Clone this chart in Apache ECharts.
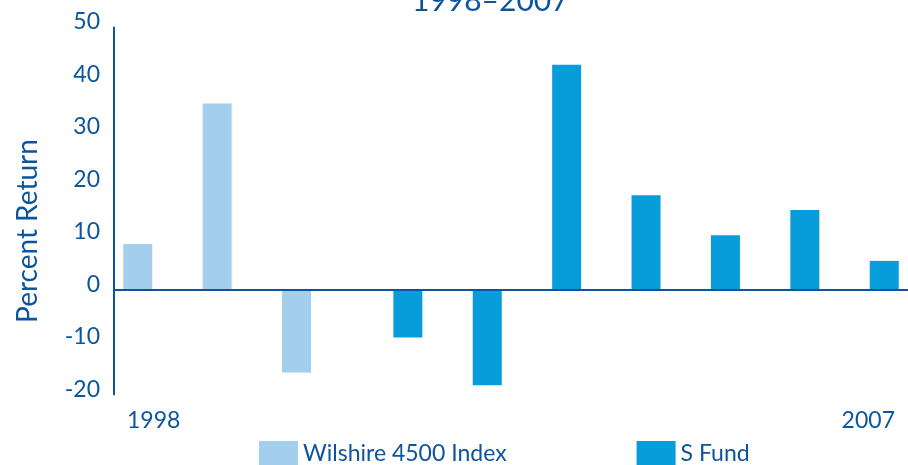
<!DOCTYPE html>
<html>
<head>
<meta charset="utf-8">
<script src="https://cdn.jsdelivr.net/npm/echarts@6/dist/echarts.min.js"></script>
<style>
html,body{margin:0;padding:0;background:#fff;}
#c{width:908px;height:465px;}
</style>
</head>
<body>
<div id="c"></div>
<script>
const years = ['1998','1999','2000','2001','2002','2003','2004','2005','2006','2007'];
const wilshire = [8.7, 35.5, -15.8, null, null, null, null, null, null, null];
const sFund = [null, null, null, -9.1, -18.2, 42.9, 18.0, 10.4, 15.2, 5.5];
const yTicks = {min: -20, max: 50, interval: 10};
const shownYears = ['1998', '2007'];

const BLUE = '#0c559e';
const LIGHT = '#a3cfec';
const SF = '#069dda';
const FONT = 'Lato';

const chart = echarts.init(document.getElementById('c'), null, {renderer: 'canvas'});
chart.setOption({
  animation: false,
  textStyle: {fontFamily: FONT},
  title: {
    text: '1998\u20132007',
    left: 407, top: -19,
    textStyle: {color: BLUE, fontSize: 30, fontWeight: 'normal', fontFamily: FONT}
  },
  graphic: [{
    type: 'text',
    x: 28, y: 231,
    rotation: Math.PI / 2,
    style: {
      text: 'Percent Return',
      fill: BLUE,
      font: '28px ' + FONT,
      textAlign: 'center',
      textVerticalAlign: 'middle'
    }
  }],
  legend: {
    left: 254, top: 436,
    itemWidth: 39, itemHeight: 26,
    itemGap: 130,
    icon: 'rect',
    textStyle: {color: BLUE, fontSize: 23, fontFamily: FONT},
    data: ['Wilshire 4500 Index', 'S Fund']
  },
  grid: {left: 114, right: 0, top: 27.5, bottom: 70.4, containLabel: false},
  xAxis: {
    type: 'category',
    data: years,
    axisLine: {show: false, onZero: false},
    axisTick: {show: false},
    axisLabel: {
      color: BLUE, fontSize: 23, fontFamily: FONT, margin: 14,
      interval: 0,
      formatter: v => shownYears.includes(v) ? v : ''
    },
    splitLine: {show: false}
  },
  yAxis: {
    type: 'value',
    min: yTicks.min, max: yTicks.max, interval: yTicks.interval,
    axisLine: {show: true, lineStyle: {color: BLUE, width: 2}},
    axisTick: {show: false},
    splitLine: {show: false},
    axisLabel: {color: BLUE, fontSize: 23, fontFamily: FONT, margin: 14, verticalAlign: 'bottom', lineHeight: 11}
  },
  series: [
    {
      name: 'Wilshire 4500 Index',
      type: 'bar',
      data: wilshire,
      barWidth: 29,
      barGap: '10%',
      itemStyle: {color: LIGHT},
      markLine: {
        silent: true,
        symbol: 'none',
        label: {show: false},
        lineStyle: {color: BLUE, width: 2, type: 'solid'},
        data: [{yAxis: 0}]
      }
    },
    {
      name: 'S Fund',
      type: 'bar',
      data: sFund,
      barWidth: 29,
      barGap: '10%',
      itemStyle: {color: SF}
    }
  ]
});
</script>
</body>
</html>
